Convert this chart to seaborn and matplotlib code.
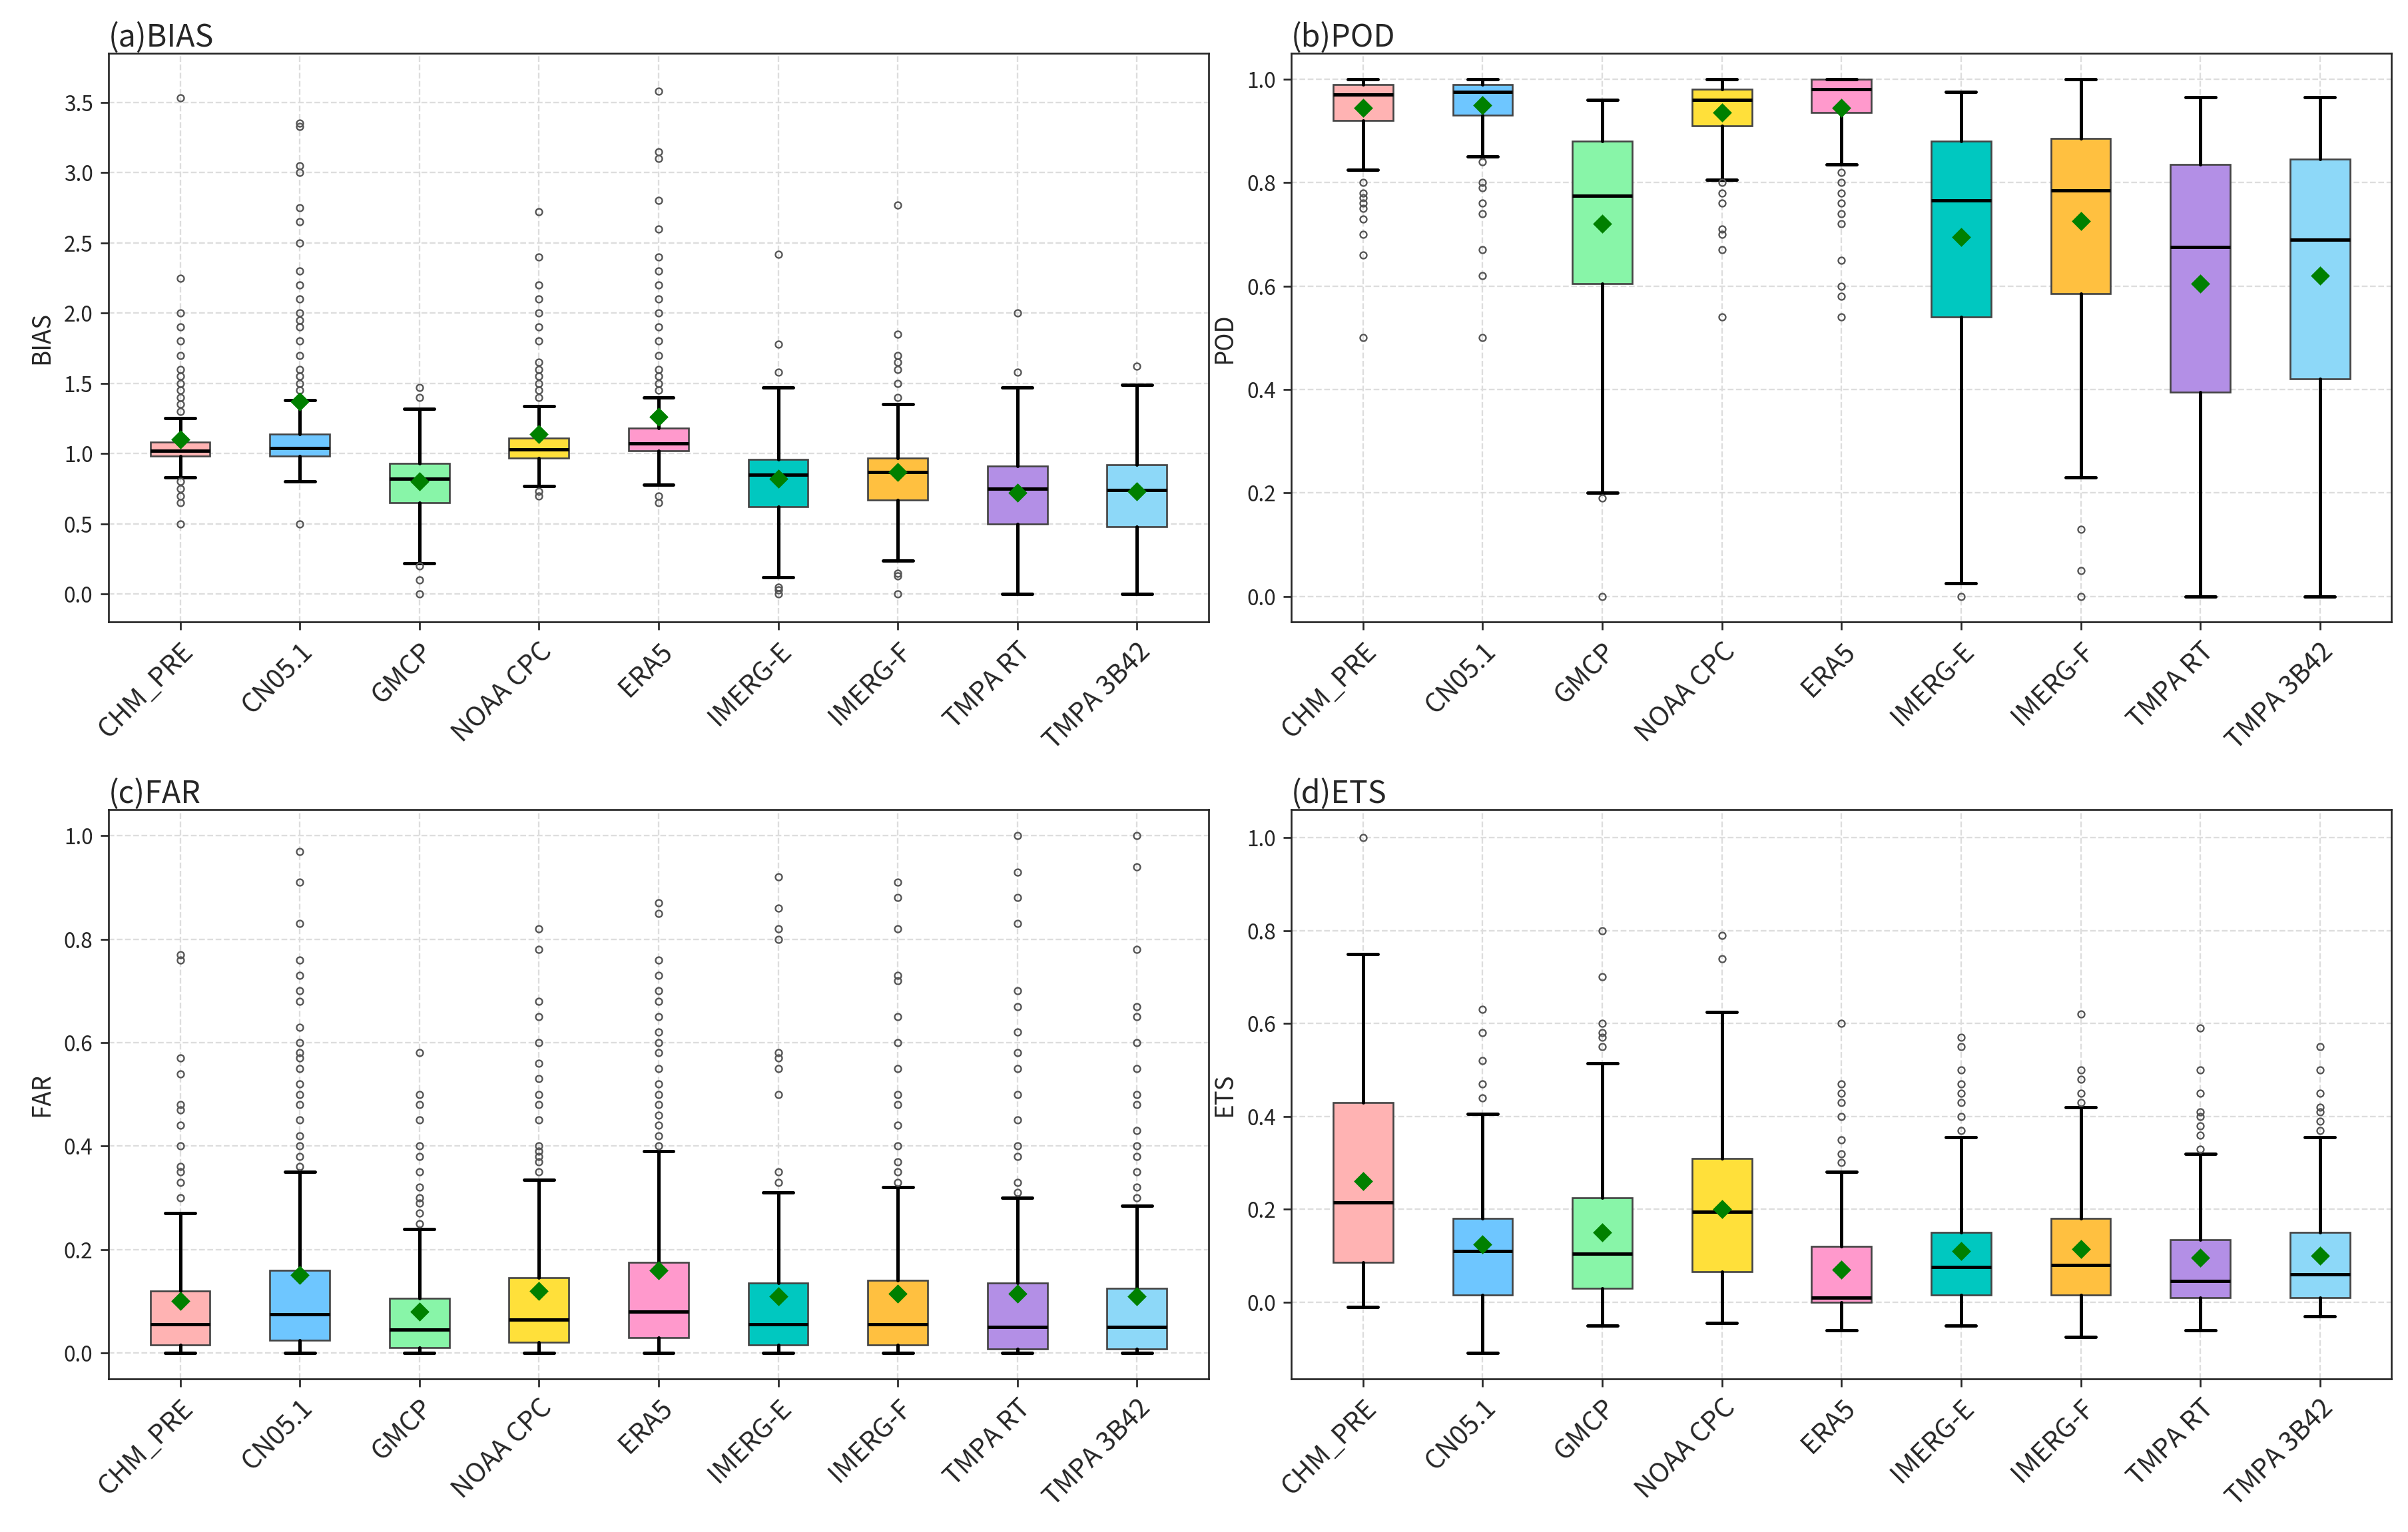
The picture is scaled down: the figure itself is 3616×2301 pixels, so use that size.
import matplotlib
matplotlib.use("Agg")
import matplotlib.pyplot as plt
import seaborn as sns

products = ["CHM_PRE", "CN05.1", "GMCP", "NOAA CPC", "ERA5", "IMERG-E", "IMERG-F", "TMPA RT", "TMPA 3B42"]
colors = ["#FFB3B3", "#6EC6FF", "#88F5A8", "#FFE03A", "#FF99CC", "#00C8C0", "#FFC040", "#B38FE6", "#8DD8F8"]

bias_q1 = [0.98, 0.98, 0.65, 0.97, 1.02, 0.62, 0.67, 0.50, 0.48]
bias_med = [1.02, 1.04, 0.82, 1.03, 1.07, 0.85, 0.87, 0.75, 0.74]
bias_q3 = [1.08, 1.14, 0.93, 1.11, 1.18, 0.96, 0.97, 0.91, 0.92]
bias_lo = [0.83, 0.80, 0.22, 0.77, 0.78, 0.12, 0.24, 0.0, 0.0]
bias_hi = [1.25, 1.38, 1.32, 1.34, 1.40, 1.47, 1.35, 1.47, 1.49]
bias_mean = [1.10, 1.37, 0.80, 1.14, 1.26, 0.82, 0.87, 0.72, 0.73]
bias_fl = [
    [0.5, 0.65, 0.7, 0.75, 0.8, 1.3, 1.35, 1.4, 1.45, 1.5, 1.55, 1.6, 1.7, 1.8, 1.9, 2.0, 2.25, 3.53],
    [0.5, 1.45, 1.5, 1.55, 1.6, 1.7, 1.8, 1.9, 1.95, 2.0, 2.1, 2.2, 2.3, 2.5, 2.65, 2.75, 3.0, 3.05, 3.33, 3.35],
    [0.0, 0.1, 0.2, 1.4, 1.47],
    [0.7, 0.73, 1.4, 1.45, 1.5, 1.55, 1.6, 1.65, 1.8, 1.9, 2.0, 2.1, 2.2, 2.4, 2.72],
    [0.65, 0.7, 1.45, 1.5, 1.55, 1.6, 1.7, 1.8, 1.9, 2.0, 2.1, 2.2, 2.3, 2.4, 2.6, 2.8, 3.1, 3.15, 3.58],
    [0.0, 0.03, 0.05, 1.58, 1.78, 2.42],
    [0.0, 0.13, 0.15, 1.4, 1.5, 1.6, 1.65, 1.7, 1.85, 2.77],
    [1.58, 2.0],
    [1.62],
]

pod_q1 = [0.92, 0.93, 0.605, 0.91, 0.935, 0.54, 0.585, 0.395, 0.42]
pod_med = [0.97, 0.975, 0.775, 0.96, 0.98, 0.765, 0.785, 0.675, 0.69]
pod_q3 = [0.99, 0.99, 0.88, 0.98, 1.0, 0.88, 0.885, 0.835, 0.845]
pod_lo = [0.825, 0.85, 0.2, 0.805, 0.835, 0.025, 0.23, 0.0, 0.0]
pod_hi = [1.0, 1.0, 0.96, 1.0, 1.0, 0.975, 1.0, 0.965, 0.965]
pod_mean = [0.945, 0.95, 0.72, 0.935, 0.945, 0.695, 0.725, 0.605, 0.62]
pod_fl = [
    [0.5, 0.66, 0.7, 0.73, 0.75, 0.76, 0.77, 0.78, 0.8],
    [0.5, 0.62, 0.67, 0.74, 0.76, 0.79, 0.8, 0.84],
    [0.0, 0.19],
    [0.54, 0.67, 0.7, 0.71, 0.76, 0.78, 0.8],
    [0.54, 0.58, 0.6, 0.65, 0.72, 0.74, 0.76, 0.78, 0.8, 0.82],
    [0.0],
    [0.0, 0.05, 0.13],
    [],
    [],
]

far_q1 = [0.015, 0.025, 0.01, 0.02, 0.03, 0.015, 0.015, 0.008, 0.008]
far_med = [0.055, 0.075, 0.045, 0.065, 0.08, 0.055, 0.055, 0.05, 0.05]
far_q3 = [0.12, 0.16, 0.105, 0.145, 0.175, 0.135, 0.14, 0.135, 0.125]
far_lo = [0.0] * 9
far_hi = [0.27, 0.35, 0.24, 0.335, 0.39, 0.31, 0.32, 0.30, 0.285]
far_mean = [0.10, 0.15, 0.08, 0.12, 0.16, 0.11, 0.115, 0.115, 0.11]
far_fl = [
    [0.3, 0.33, 0.35, 0.36, 0.4, 0.44, 0.47, 0.48, 0.54, 0.57, 0.76, 0.77],
    [0.36, 0.38, 0.4, 0.42, 0.45, 0.48, 0.5, 0.52, 0.55, 0.57, 0.58, 0.6, 0.63, 0.68, 0.7, 0.73, 0.76, 0.83, 0.91, 0.97],
    [0.25, 0.27, 0.29, 0.3, 0.32, 0.35, 0.38, 0.4, 0.45, 0.48, 0.5, 0.58],
    [0.35, 0.37, 0.38, 0.39, 0.4, 0.45, 0.48, 0.5, 0.53, 0.56, 0.6, 0.65, 0.68, 0.78, 0.82],
    [0.4, 0.42, 0.44, 0.46, 0.48, 0.5, 0.52, 0.55, 0.58, 0.6, 0.62, 0.65, 0.68, 0.7, 0.73, 0.76, 0.85, 0.87],
    [0.33, 0.35, 0.5, 0.55, 0.57, 0.58, 0.8, 0.82, 0.86, 0.92],
    [0.33, 0.35, 0.37, 0.4, 0.44, 0.48, 0.5, 0.55, 0.6, 0.65, 0.72, 0.73, 0.82, 0.88, 0.91],
    [0.31, 0.33, 0.38, 0.4, 0.45, 0.5, 0.55, 0.58, 0.62, 0.67, 0.7, 0.83, 0.88, 0.93, 1.0],
    [0.3, 0.32, 0.35, 0.38, 0.4, 0.43, 0.48, 0.5, 0.55, 0.6, 0.65, 0.67, 0.78, 0.94, 1.0],
]

ets_q1 = [0.085, 0.015, 0.03, 0.065, 0.0, 0.015, 0.015, 0.01, 0.01]
ets_med = [0.215, 0.11, 0.105, 0.195, 0.01, 0.075, 0.08, 0.045, 0.06]
ets_q3 = [0.43, 0.18, 0.225, 0.31, 0.12, 0.15, 0.18, 0.135, 0.15]
ets_lo = [-0.01, -0.11, -0.05, -0.045, -0.06, -0.05, -0.075, -0.06, -0.03]
ets_hi = [0.75, 0.405, 0.515, 0.625, 0.28, 0.355, 0.42, 0.32, 0.355]
ets_mean = [0.26, 0.125, 0.15, 0.2, 0.07, 0.11, 0.115, 0.095, 0.10]
ets_fl = [
    [1.0],
    [0.44, 0.47, 0.52, 0.58, 0.63],
    [0.55, 0.57, 0.58, 0.6, 0.7, 0.8],
    [0.74, 0.79],
    [0.3, 0.32, 0.35, 0.4, 0.43, 0.45, 0.47, 0.6],
    [0.37, 0.4, 0.43, 0.45, 0.47, 0.5, 0.55, 0.57],
    [0.43, 0.45, 0.48, 0.5, 0.62],
    [0.33, 0.36, 0.38, 0.4, 0.41, 0.45, 0.5, 0.59],
    [0.37, 0.39, 0.41, 0.42, 0.45, 0.5, 0.55],
]

panels = [
    ("(a)BIAS", "BIAS", bias_q1, bias_med, bias_q3, bias_lo, bias_hi, bias_mean, bias_fl, [0, 0.5, 1, 1.5, 2, 2.5, 3, 3.5], (-0.2, 3.85)),
    ("(b)POD", "POD", pod_q1, pod_med, pod_q3, pod_lo, pod_hi, pod_mean, pod_fl, [0, 0.2, 0.4, 0.6, 0.8, 1.0], (-0.05, 1.05)),
    ("(c)FAR", "FAR", far_q1, far_med, far_q3, far_lo, far_hi, far_mean, far_fl, [0, 0.2, 0.4, 0.6, 0.8, 1.0], (-0.05, 1.05)),
    ("(d)ETS", "ETS", ets_q1, ets_med, ets_q3, ets_lo, ets_hi, ets_mean, ets_fl, [0, 0.2, 0.4, 0.6, 0.8, 1.0], (-0.165, 1.06)),
]

sns.set_style("ticks")
plt.rcParams['font.family'] = ['Noto Sans CJK SC', 'DejaVu Sans']

fig, axes = plt.subplots(2, 2, figsize=(15.07, 9.59), dpi=240)
fig.subplots_adjust(left=0.045, right=0.993, top=0.965, bottom=0.1, hspace=0.33, wspace=0.075)

for ax, (title, ylab, q1, med, q3, lo, hi, mn, fl, yt, ylim) in zip(axes.flat, panels):
    stats = []
    for i, p in enumerate(products):
        stats.append(dict(label=p, q1=q1[i], med=med[i], q3=q3[i], whislo=lo[i], whishi=hi[i], mean=mn[i], fliers=fl[i]))
    bp = ax.bxp(stats, positions=range(len(products)), widths=0.5, patch_artist=True, showmeans=True,
                boxprops=dict(linewidth=0.8, edgecolor="#444444"),
                medianprops=dict(color="black", linewidth=1.5),
                whiskerprops=dict(color="black", linewidth=1.5),
                capprops=dict(color="black", linewidth=1.5),
                meanprops=dict(marker="D", markerfacecolor="green", markeredgecolor="green", markersize=5),
                flierprops=dict(marker="o", markerfacecolor="none", markeredgecolor="#555555", markersize=3, markeredgewidth=0.7))
    for patch, c in zip(bp["boxes"], colors):
        patch.set_facecolor(c)
    ax.set_xticks(range(len(products)))
    ax.set_xticklabels(products, rotation=45, ha="right", rotation_mode="anchor", fontsize=12)
    ax.set_yticks(yt)
    ax.tick_params(axis="y", labelsize=9.5)
    ax.set_ylim(*ylim)
    ax.set_xlim(-0.6, 8.6)
    ax.set_ylabel(ylab, fontsize=11)
    ax.set_title(title, loc="left", fontsize=14, pad=3)
    ax.grid(True, linestyle="--", color="#dddddd", linewidth=0.7)
    ax.set_axisbelow(True)
    for s in ax.spines.values():
        s.set_linewidth(0.8)

fig.savefig("out.png", dpi=240)
